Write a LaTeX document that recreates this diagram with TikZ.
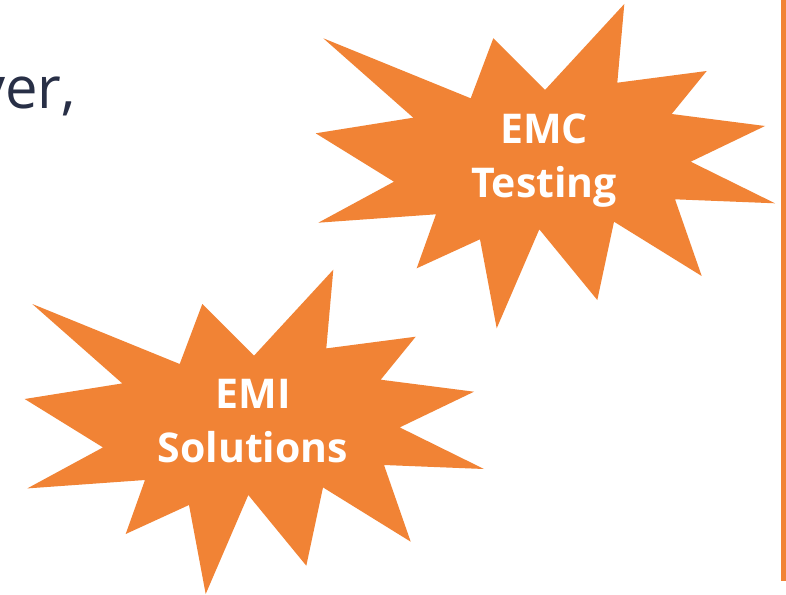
\documentclass[tikz,border=0pt]{standalone}
\usepackage{fontspec}
\setmainfont{Open Sans}
\definecolor{burstorange}{RGB}{241,131,53}
\definecolor{navytext}{RGB}{40,47,70}
\tikzset{
  burstfill/.style={fill=burstorange, draw=none},
  bursttext/.style={text=white, font=\fontsize{41}{54}\selectfont\bfseries, align=center, inner sep=0pt},
  bodytext/.style={text=navytext, font=\fontsize{58}{70}\selectfont, inner sep=0pt},
  burst/.pic={
    \fill[burstfill] (323.3,38.3) -- (470.7,98.3) -- (493.3,38.3) -- (545,90) -- (624.3,4)
      -- (617.3,82.7) -- (706.7,71) -- (671.7,114) -- (765,126) -- (690.7,161.7)
      -- (775,203.3) -- (675,199.3) -- (701.7,276) -- (614,221.7) -- (597.3,300)
      -- (539.3,229.3) -- (496.7,328.3) -- (480,239.3) -- (416.7,268.3) -- (436,214.3)
      -- (318.3,222.7) -- (394,181.7) -- (315.7,133.3) -- (413.3,117.7) -- cycle;
  }
}
\begin{document}
\begin{tikzpicture}[x=1pt,y=-1pt]
\useasboundingbox (0,0) rectangle (786,594);
\fill[white] (0,0) rectangle (786,594);
\node[bodytext, anchor=base east] (ver) at (76,108) {ver,};
\pic (burstemc) at (0,0) {burst};
\pic (burstemi) at (-291,265.7) {burst};
\node[bursttext] (emc) at (544,161) {EMC\\Testing};
\node[bursttext] (emi) at (253,421) {EMI\\Solutions};
\fill[burstorange] (781,0) rectangle (786,581);
\end{tikzpicture}
\end{document}
